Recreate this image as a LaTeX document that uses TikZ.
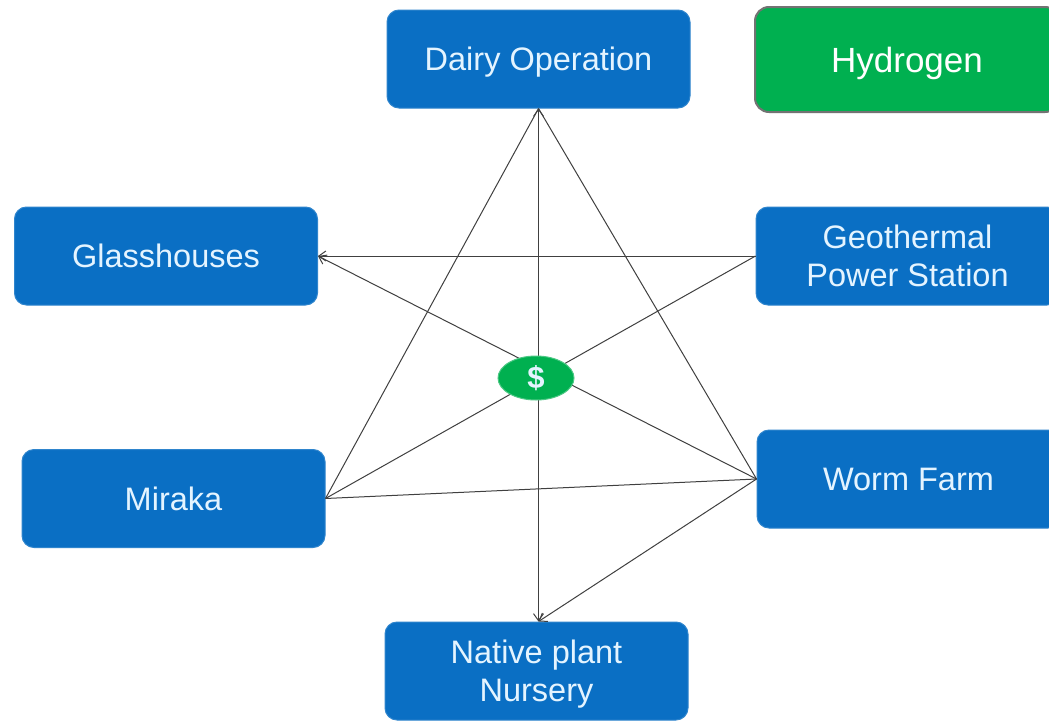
\documentclass[tikz,border=0pt]{standalone}
\usepackage{fontspec}
\setmainfont{Liberation Sans}
\usetikzlibrary{arrows.meta,shapes.geometric}
\definecolor{boxblue}{HTML}{0A6FC4}
\definecolor{boxtext}{HTML}{E4F4FF}
\definecolor{hgreen}{HTML}{00B050}
\definecolor{linegray}{HTML}{404040}
\tikzset{
  bluebox/.style={draw=boxblue!85!white, line width=1pt, fill=boxblue, rounded corners=12pt,
    minimum width=303pt, minimum height=98pt, inner sep=0pt, text=boxtext, text depth=0pt,
    align=center, font=\fontsize{32.5}{38}\selectfont},
  greenbox/.style={draw=gray!90!black, line width=2pt, fill=hgreen, rounded corners=14pt,
    minimum width=304pt, minimum height=105pt, inner sep=0pt, text=white, text depth=0pt,
    font=\fontsize{35}{38}\selectfont},
  link/.style={draw=linegray, line width=1pt},
  tip/.style={-{Straight Barb[length=7pt,width=10pt]}},
  money/.style={ellipse, fill=hgreen, draw=hgreen!70!white, line width=1pt,
    minimum width=76pt, minimum height=44pt, inner sep=0pt, text=boxtext,
    font=\fontsize{31}{32}\selectfont\bfseries}
}
\begin{document}
\begin{tikzpicture}[x=1pt,y=-1pt]
\useasboundingbox (0,0) rectangle (1049,720);
\clip (0,0) rectangle (1049,720);
\fill[white] (0,0) rectangle (1049,720);
\node[bluebox] (dairy) at (538.5,59) {Dairy Operation};
\node[greenbox] (hyd) at (907,59.5) {Hydrogen};
\node[bluebox] (glass) at (166,256) {Glasshouses};
\node[bluebox] (geo) at (907.5,256) {Geothermal\\Power Station};
\node[bluebox] (miraka) at (173.5,498.5) {Miraka};
\node[bluebox] (worm) at (908.5,479) {Worm Farm};
\node[bluebox] (nursery) at (536.5,671) {Native plant\\Nursery};
% connectors
\draw[link,tip] (geo.west) -- (glass.east);
\draw[link,tip] (worm.west) -- (glass.east);
\draw[link] (geo.west) -- (miraka.east);
\draw[link] (miraka.east) -- (worm.west);
\draw[link] (miraka.east) -- (dairy.south);
\draw[link] (worm.west) -- (dairy.south);
\draw[link,{Straight Barb[length=7pt,width=10pt]}-{Straight Barb[length=7pt,width=10pt]}] (dairy.south) -- (dairy.south |- nursery.north);
\draw[link,tip] (worm.west) -- (dairy.south |- nursery.north);
\node[money] (dollar) at (536,378) {\$};
\end{tikzpicture}
\end{document}
